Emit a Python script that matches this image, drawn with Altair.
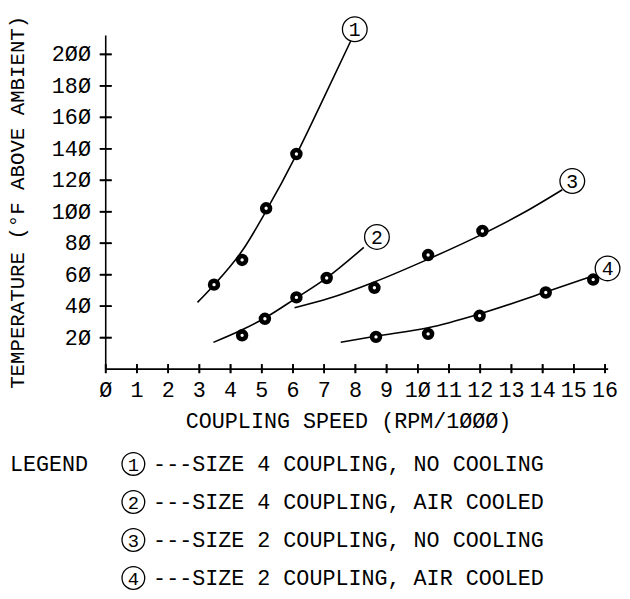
import altair as alt
import pandas as pd

FONT = "Liberation Mono"
FS = 22

# axis ticks and their labels (plotter style slashed zero)
x_ticks = list(range(0, 17))
x_tick_labels = ["Ø", "1", "2", "3", "4", "5", "6", "7", "8", "9",
                 "1Ø", "11", "12", "13", "14", "15", "16"]
y_ticks = [20, 40, 60, 80, 100, 120, 140, 160, 180, 200]
y_tick_labels = ["2Ø", "4Ø", "6Ø", "8Ø", "1ØØ", "12Ø", "14Ø", "16Ø",
                 "18Ø", "2ØØ"]
x_title = "COUPLING SPEED (RPM/1ØØØ)"
y_title = "TEMPERATURE (°F ABOVE AMBIENT)"

# fitted curves
c1_line_x = [2.94, 3.47, 4.40, 5.14, 6.11, 6.85, 7.85]
c1_line_y = [42.4, 53.5, 76.0, 100.5, 136.3, 166.6, 208.5]
c2_line_x = [3.45, 4.37, 5.10, 6.09, 7.08, 8.27]
c2_line_y = [17.0, 25.0, 32.5, 45.0, 58.0, 77.4]
c3_line_x = [6.05, 7.16, 8.61, 10.30, 12.07, 13.40, 14.63]
c3_line_y = [39.0, 45.0, 55.4, 69.6, 85.8, 99.5, 114.0]
c4_line_x = [7.53, 8.64, 10.33, 11.96, 14.10, 15.65]
c4_line_y = [17.1, 20.9, 26.3, 35.0, 49.0, 59.5]

# measured points
c1_pts_x = [3.47, 4.37, 5.14, 6.11]
c1_pts_y = [53.7, 69.4, 102.2, 136.7]
c2_pts_x = [4.37, 5.10, 6.11, 7.08]
c2_pts_y = [21.5, 32.0, 45.6, 57.9]
c3_pts_x = [8.61, 10.33, 12.07]
c3_pts_y = [51.7, 72.5, 87.8]
c4_pts_x = [8.66, 10.33, 11.98, 14.10, 15.62]
c4_pts_y = [20.5, 22.4, 33.9, 48.7, 56.9]

# curve tags
curve_ids = ["1", "2", "3", "4"]
tag_x = [7.98, 8.69, 14.95, 16.08]
tag_y = [216.0, 84.0, 119.5, 64.0]

# legend
legend_title_text = "LEGEND"
legend_labels = [
    "---SIZE 4 COUPLING, NO COOLING",
    "---SIZE 4 COUPLING, AIR COOLED",
    "---SIZE 2 COUPLING, NO COOLING",
    "---SIZE 2 COUPLING, AIR COOLED",
]

line_sets = [(c1_line_x, c1_line_y), (c2_line_x, c2_line_y),
             (c3_line_x, c3_line_y), (c4_line_x, c4_line_y)]
pt_sets = [(c1_pts_x, c1_pts_y), (c2_pts_x, c2_pts_y),
           (c3_pts_x, c3_pts_y), (c4_pts_x, c4_pts_y)]

line_rows, pt_rows = [], []
for cid, (xs, ys) in zip(curve_ids, line_sets):
    for i, (a, b) in enumerate(zip(xs, ys)):
        line_rows.append({"curve": cid, "x": a, "y": b, "i": i})
for cid, (xs, ys) in zip(curve_ids, pt_sets):
    for a, b in zip(xs, ys):
        pt_rows.append({"curve": cid, "x": a, "y": b})
lines_df = pd.DataFrame(line_rows)
pts_df = pd.DataFrame(pt_rows)
tags_df = pd.DataFrame({"curve": curve_ids, "x": tag_x, "y": tag_y})
xt_df = pd.DataFrame({"x": x_ticks, "y": [0] * len(x_ticks),
                      "lab": x_tick_labels})
yt_df = pd.DataFrame({"x": [0] * len(y_ticks), "y": y_ticks,
                      "lab": y_tick_labels})

W, H = 509, 338
XMAX, YMAX = 16.1, 212
xscale = alt.Scale(domain=[0, XMAX], nice=False, zero=False)
yscale = alt.Scale(domain=[0, YMAX], nice=False, zero=False)

hidden = dict(domain=False, ticks=False, labels=False, grid=False, title="")
X = alt.X("x:Q", scale=xscale, axis=alt.Axis(**hidden))
Y = alt.Y("y:Q", scale=yscale, axis=alt.Axis(**hidden))

curves = alt.Chart(lines_df).mark_line(
    interpolate="monotone", color="black", strokeWidth=1.6
).encode(x=X, y=Y, detail="curve:N", order="i:Q")

# axis lines
x_line = alt.Chart(xt_df).mark_rule(color="black", strokeWidth=1.6).encode(
    x=alt.X("min(x):Q", scale=xscale, axis=alt.Axis(**hidden)),
    x2=alt.datum(XMAX), y=Y)
y_line = alt.Chart(yt_df).mark_rule(color="black", strokeWidth=1.6).encode(
    x=X, y=alt.Y("min(x):Q", scale=yscale, axis=alt.Axis(**hidden)),
    y2=alt.datum(YMAX))

# tick marks crossing the axis lines: short rules whose ends are computed
# in axis units (about 5 px up / 4 px down, 6 px each side)
x_tick_rules = alt.Chart(xt_df).transform_calculate(
    ylo="-2.6", yhi="3.2"
).mark_rule(color="black", strokeWidth=1.7).encode(
    x=X,
    y=alt.Y("ylo:Q", scale=yscale, axis=alt.Axis(**hidden)),
    y2="yhi:Q",
)
y_tick_rules = alt.Chart(yt_df).transform_calculate(
    xlo="-0.19", xhi="0.19"
).mark_rule(color="black", strokeWidth=1.7).encode(
    y=Y,
    x=alt.X("xlo:Q", scale=xscale, axis=alt.Axis(**hidden)),
    x2="xhi:Q",
)
# same ticks again as line-shaped symbols
x_tick_syms = alt.Chart(xt_df).mark_point(
    shape="stroke", angle=90, size=81, filled=False, color="black",
    strokeWidth=1.7, opacity=1, yOffset=-0.5,
).encode(x=X, y=Y)
y_tick_syms = alt.Chart(yt_df).mark_point(
    shape="stroke", size=144, filled=False, color="black",
    strokeWidth=1.7, opacity=1,
).encode(x=X, y=Y)

x_tick_text = alt.Chart(xt_df).mark_text(
    font=FONT, fontSize=FS, color="black", align="center", baseline="middle",
    dy=21,
).encode(x=X, y=Y, text="lab:N")

y_tick_text = alt.Chart(yt_df).mark_text(
    font=FONT, fontSize=FS, color="black", align="right", baseline="middle",
    dx=-15,
).encode(x=X, y=Y, text="lab:N")

x_title_mark = alt.Chart(pd.DataFrame({"t": [x_title]})).mark_text(
    font=FONT, fontSize=FS, color="black", align="center", baseline="middle",
).encode(x=alt.value(246), y=alt.value(H + 53), text="t:N")

y_title_mark = alt.Chart(pd.DataFrame({"t": [y_title]})).mark_text(
    font=FONT, fontSize=21, color="black", align="center", baseline="middle",
    angle=270,
).encode(x=alt.value(-89), y=alt.value(169), text="t:N")

points = alt.Chart(pts_df).mark_point(
    shape="circle", size=64, fill="white", stroke="black", strokeWidth=4.6,
    opacity=1,
).encode(x=X, y=Y)

tag_circles = alt.Chart(tags_df).mark_point(
    shape="circle", size=625, fill="white", stroke="black", strokeWidth=1.3,
    opacity=1,
).encode(x=X, y=Y)

tag_text = alt.Chart(tags_df).mark_text(
    font=FONT, fontSize=20, color="black", align="center", baseline="middle",
    dy=1,
).encode(x=X, y=Y, text="curve:N")

ROW0, ROWSTEP = 434.0, 38.5
legend_layers = [
    alt.Chart(pd.DataFrame({"t": [legend_title_text]})).mark_text(
        font=FONT, fontSize=FS, color="black", align="left", baseline="middle",
    ).encode(x=alt.value(-97), y=alt.value(ROW0), text="t:N")
]
for k, (num, lab) in enumerate(zip(curve_ids, legend_labels)):
    ypx = ROW0 + k * ROWSTEP
    d = pd.DataFrame({"num": [num], "label": [lab]})
    legend_layers.append(
        alt.Chart(d).mark_point(
            shape="circle", size=529, fill="white", stroke="black",
            strokeWidth=1.3, opacity=1,
        ).encode(x=alt.value(28), y=alt.value(ypx))
    )
    legend_layers.append(
        alt.Chart(d).mark_text(
            font=FONT, fontSize=19, color="black", align="center",
            baseline="middle", dy=1,
        ).encode(x=alt.value(28), y=alt.value(ypx), text="num:N")
    )
    legend_layers.append(
        alt.Chart(d).mark_text(
            font=FONT, fontSize=FS, color="black", align="left",
            baseline="middle",
        ).encode(x=alt.value(48), y=alt.value(ypx), text="label:N")
    )

chart = alt.layer(
    curves, x_line, y_line, x_tick_rules, y_tick_rules, x_tick_syms,
    y_tick_syms, points, tag_circles, tag_text, x_tick_text, y_tick_text,
    x_title_mark, y_title_mark, *legend_layers
).properties(
    width=W, height=H,
    padding={"left": 99, "top": 24, "right": 14, "bottom": 229},
    autosize=alt.AutoSizeParams(type="none"),
    background="white",
).configure_view(stroke="transparent")

chart.save("out.html", embed_options={"renderer": "svg", "actions": False})
